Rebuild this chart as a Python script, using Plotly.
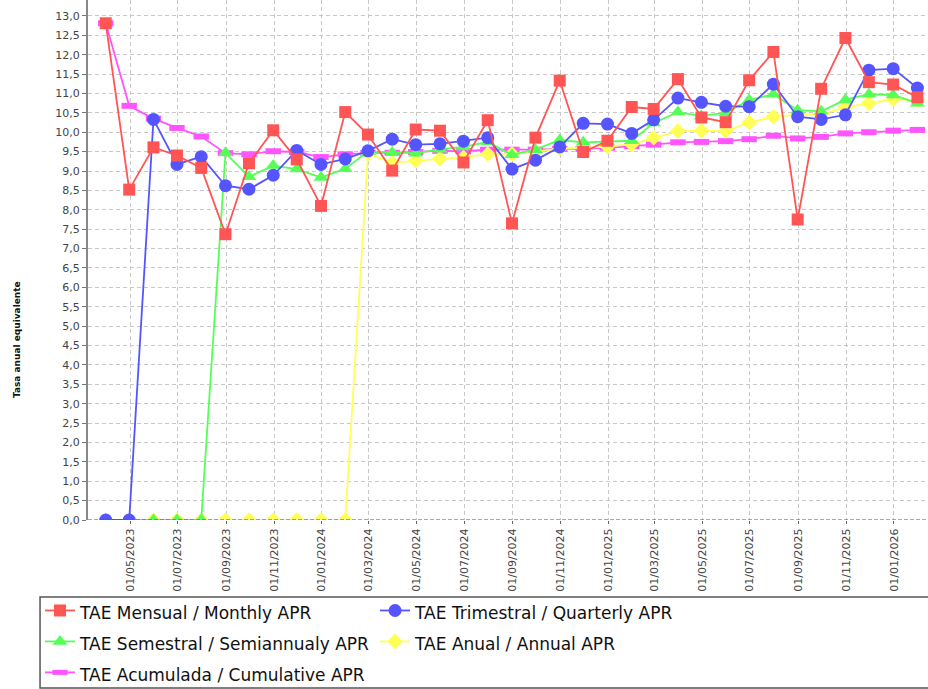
import plotly.graph_objects as go

dates = [
    "2023-03-31", "2023-04-30", "2023-05-31", "2023-06-30", "2023-07-31", "2023-08-31",
    "2023-09-30", "2023-10-31", "2023-11-30", "2023-12-31",
    "2024-01-31", "2024-02-29", "2024-03-31", "2024-04-30", "2024-05-31", "2024-06-30",
    "2024-07-31", "2024-08-31", "2024-09-30", "2024-10-31", "2024-11-30", "2024-12-31",
    "2025-01-31", "2025-02-28", "2025-03-31", "2025-04-30", "2025-05-31", "2025-06-30",
    "2025-07-31", "2025-08-31", "2025-09-30", "2025-10-31", "2025-11-30", "2025-12-31",
    "2026-01-31",
]

monthly = [12.81, 8.52, 9.61, 9.40, 9.08, 7.37, 9.20, 10.05, 9.30, 8.10,
           10.52, 9.94, 9.01, 10.07, 10.04, 9.22, 10.31, 7.65, 9.86, 11.33, 9.49, 9.78,
           10.65, 10.60, 11.37, 10.38, 10.26, 11.34, 12.07, 7.75, 11.12, 12.43, 11.29, 11.23,
           10.90]
quarterly = [0.0, 0.0, 10.33, 9.17, 9.37, 8.62, 8.53, 8.89, 9.53, 9.17,
             9.31, 9.52, 9.82, 9.68, 9.70, 9.77, 9.86, 9.05, 9.28, 9.62, 10.23, 10.21,
             9.97, 10.32, 10.88, 10.77, 10.67, 10.66, 11.24, 10.40, 10.33, 10.45, 11.60, 11.64,
             11.14]
semiannual = [0.0, 0.0, 0.0, 0.0, 0.0, 9.47, 8.85, 9.14, 9.05, 8.83,
              9.06, 9.50, 9.48, 9.46, 9.56, 9.62, 9.75, 9.42, 9.55, 9.80, 9.74, 9.76,
              9.78, 10.24, 10.52, 10.42, 10.50, 10.83, 10.98, 10.57, 10.54, 10.84, 10.98, 10.96,
              10.75]
annual = [0.0, 0.0, 0.0, 0.0, 0.0, 0.0, 0.0, 0.0, 0.0, 0.0,
          0.0, 9.45, 9.21, 9.27, 9.32, 9.35, 9.44, 9.44, 9.50, 9.58, 9.60, 9.63,
          9.69, 9.86, 10.03, 10.04, 10.03, 10.25, 10.40, 10.45, 10.47, 10.64, 10.75, 10.85,
          10.83]
cumulative = [12.81, 10.68, 10.35, 10.11, 9.89, 9.46, 9.43, 9.51, 9.49, 9.36,
              9.43, 9.47, 9.47, 9.49, 9.52, 9.51, 9.55, 9.55, 9.55, 9.57, 9.57, 9.60,
              9.64, 9.68, 9.74, 9.75, 9.77, 9.82, 9.91, 9.84, 9.88, 9.97, 10.00, 10.04,
              10.06]

series_names = [
    "TAE Mensual / Monthly APR",
    "TAE Trimestral / Quarterly APR",
    "TAE Semestral / Semiannualy APR",
    "TAE Anual / Annual APR",
    "TAE Acumulada / Cumulative APR",
]

tick_vals = ["2023-05-01", "2023-07-01", "2023-09-01", "2023-11-01",
             "2024-01-01", "2024-03-01", "2024-05-01", "2024-07-01", "2024-09-01", "2024-11-01",
             "2025-01-01", "2025-03-01", "2025-05-01", "2025-07-01", "2025-09-01", "2025-11-01",
             "2026-01-01"]
tick_text = ["01/05/2023", "01/07/2023", "01/09/2023", "01/11/2023",
             "01/01/2024", "01/03/2024", "01/05/2024", "01/07/2024", "01/09/2024", "01/11/2024",
             "01/01/2025", "01/03/2025", "01/05/2025", "01/07/2025", "01/09/2025", "01/11/2025",
             "01/01/2026"]

y_title = "Tasa anual equivalente"

FONT = "DejaVu Sans"
LEG_TXT = '<span style="font-size:17px">{}</span>'

fig = go.Figure()

# drawing order: last drawn on top (red on top like the reference)
specs = [
    (cumulative, series_names[4], "#FF55FF", dict(symbol="line-ew", size=11,
                                                  line=dict(color="#FF55FF", width=6)), 5),
    (annual, series_names[3], "#FFFF55", dict(symbol="diamond", size=12, color="#FFFF55"), 4),
    (semiannual, series_names[2], "#55FF55", dict(symbol="triangle-up", size=13, color="#55FF55"), 3),
    (quarterly, series_names[1], "#5555FF", dict(symbol="circle", size=13, color="#5555FF"), 2),
    (monthly, series_names[0], "#FF5555", dict(symbol="square", size=12, color="#FF5555"), 1),
]
for vals, name, col, mk, rank in specs:
    fig.add_trace(go.Scatter(
        x=dates, y=vals, name=LEG_TXT.format(name), mode="lines+markers",
        line=dict(color=col, width=1.8), marker=mk, legendrank=rank,
        cliponaxis=True,
    ))

fig.update_layout(
    width=928, height=689,
    margin=dict(l=88, r=0, t=0, b=169, autoexpand=False),
    paper_bgcolor="white", plot_bgcolor="white",
    separators=",.",
    font=dict(family=FONT, color="#444444", size=11),
    showlegend=True,
    legend=dict(
        orientation="h", xref="container", yref="container",
        x=40 / 928, xanchor="left", y=1 - 590 / 689, yanchor="top",
        font=dict(family=FONT, size=21.5, color="#111111"),
        bgcolor="rgba(0,0,0,0)", borderwidth=0,
        itemwidth=30,
    ),
    xaxis=dict(
        type="date", automargin=False,
        range=["2023-03-08 08:00", "2026-02-13 12:00"],
        tickmode="array", tickvals=tick_vals, ticktext=tick_text,
        tickangle=-90, tickfont=dict(size=11, color="#444444"),
        ticks="outside", ticklen=3, tickcolor="#666666",
        showgrid=True, gridcolor="#C8C8C8", griddash="4px,3px", gridwidth=1,
        showline=False, zeroline=False,
    ),
    yaxis=dict(
        automargin=False,
        range=[0, 13.41],
        tick0=0, dtick=0.5, tickformat=".1f",
        tickfont=dict(size=11, color="#444444"),
        ticks="outside", ticklen=4, tickcolor="#777777",
        showgrid=True, gridcolor="#C8C8C8", griddash="4px,3px", gridwidth=1,
        showline=True, linecolor="#888888", linewidth=2,
        zeroline=False,
    ),
    shapes=[
        dict(type="line", xref="paper", yref="y", x0=0, x1=1, y0=0, y1=0,
             line=dict(color="#555555", width=1.2, dash="4px,2px"), layer="above"),
        dict(type="rect", xref="paper", yref="paper",
             x0=-0.0571, x1=1.02, y0=-0.148, y1=-0.323,
             line=dict(color="#555555", width=1.5), fillcolor="rgba(0,0,0,0)"),
    ],
    annotations=[
        dict(text="<b>" + y_title + "</b>", xref="paper", yref="paper",
             x=-0.0845, y=0.346, textangle=-90, showarrow=False,
             font=dict(family=FONT, size=9, color="#111111"),
             xanchor="center", yanchor="middle"),
    ],
)

fig.write_html("out.html", config={"displayModeBar": False},
               post_script="document.body.style.margin='0px';")
